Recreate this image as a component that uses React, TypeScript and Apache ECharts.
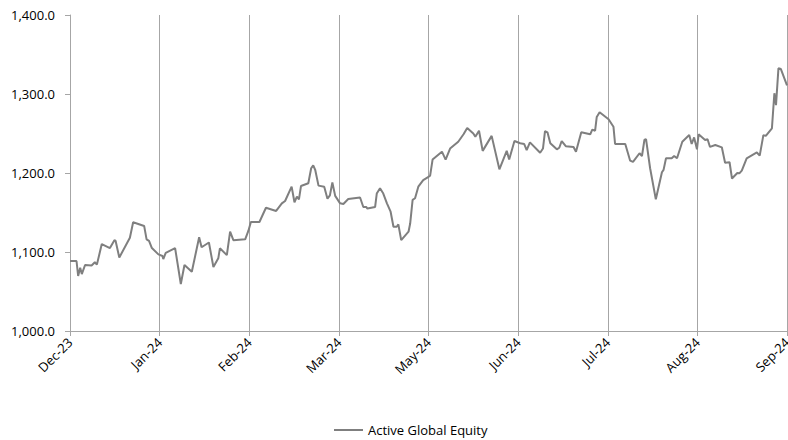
import React, { useEffect, useRef } from "react";
import * as echarts from "echarts";

// x positions in trading-day units (22 per label interval)
const monthLabels = ["Dec-23", "Jan-24", "Feb-24", "Mar-24", "May-24", "Jun-24", "Jul-24", "Aug-24", "Sep-24"];
const days = [
  0.0, 1.6, 2.0, 2.5, 2.9, 3.7, 5.3, 6.1, 6.6, 7.8, 9.8, 10.9, 11.2, 12.1, 14.7, 15.5, 18.2, 18.8, 19.4, 20.1,
  21.7, 22.7, 22.9, 23.5, 25.8, 27.2, 28.1, 29.9, 31.7, 32.3, 34.1, 35.2, 36.4, 36.8, 38.5, 39.3, 40.1, 43.0, 43.8, 44.4,
  46.5, 48.1, 50.6, 52.0, 52.8, 54.4, 55.1, 55.7, 56.2, 56.7, 58.5, 59.2, 59.7, 60.2, 61.0, 62.4, 63.2, 63.8, 64.4, 65.1,
  66.3, 67.1, 68.3, 71.2, 72.0, 72.7, 73.0, 74.9, 75.3, 76.1, 76.9, 77.8, 78.7, 79.4, 80.2, 80.6, 81.3, 83.1, 83.5, 84.1,
  84.7, 85.5, 86.7, 87.8, 88.4, 89.0, 91.3, 92.2, 93.3, 95.3, 96.6, 97.5, 99.0, 99.5, 100.4, 101.3, 103.5, 105.4, 107.2, 107.8,
  109.1, 110.5, 111.5, 112.1, 112.9, 115.4, 116.1, 116.6, 117.2, 117.9, 119.5, 120.1, 120.7, 121.7, 123.6, 124.2, 125.5, 127.7, 128.2, 128.9,
  129.3, 130.0, 132.2, 133.4, 133.8, 136.3, 137.5, 138.2, 139.8, 140.4, 141.0, 141.4, 142.4, 143.8, 145.3, 145.7, 146.3, 147.7, 148.3, 149.0,
  150.3, 152.0, 152.6, 153.2, 153.9, 154.3, 155.9, 156.5, 157.1, 158.4, 160.0, 160.8, 161.9, 162.5, 163.8, 164.3, 164.9, 166.1, 168.6, 169.3,
  170.2, 170.8, 172.3, 172.9, 173.3, 173.9, 174.5, 176.0
];
const equityValues = [
  1088.6, 1088.6, 1069.6, 1080.0, 1072.0, 1083.5, 1083.0, 1087.0, 1084.0, 1110.0, 1105.0, 1115.0, 1114.0, 1093.0, 1118.0, 1137.6, 1133.0, 1116.0, 1114.0, 1105.0,
  1097.0, 1095.0, 1091.0, 1099.0, 1105.0, 1059.5, 1083.5, 1075.0, 1118.6, 1106.0, 1112.0, 1081.0, 1092.0, 1104.7, 1096.0, 1125.7, 1115.0, 1116.0, 1127.0, 1138.0,
  1138.0, 1156.0, 1152.0, 1161.6, 1164.6, 1182.7, 1163.0, 1170.0, 1166.7, 1183.5, 1187.0, 1206.0, 1209.7, 1203.8, 1184.0, 1182.7, 1167.5, 1171.7, 1188.0, 1171.0,
  1161.6, 1160.8, 1167.0, 1169.0, 1157.0, 1157.0, 1155.0, 1157.0, 1174.0, 1180.6, 1174.0, 1161.6, 1151.0, 1132.0, 1132.0, 1135.0, 1115.0, 1125.7, 1136.0, 1166.0,
  1168.0, 1182.7, 1191.0, 1194.5, 1196.6, 1217.0, 1227.0, 1217.0, 1231.0, 1239.6, 1249.0, 1257.0, 1250.0, 1246.0, 1253.5, 1228.0, 1247.0, 1204.7, 1228.0, 1217.0,
  1240.5, 1237.6, 1236.7, 1229.0, 1238.8, 1225.7, 1231.0, 1253.0, 1251.5, 1237.6, 1230.0, 1232.0, 1240.5, 1234.0, 1233.0, 1227.0, 1251.5, 1249.0, 1255.0, 1253.5,
  1271.0, 1276.8, 1268.0, 1258.6, 1236.7, 1236.7, 1215.6, 1214.0, 1225.0, 1221.5, 1241.8, 1243.0, 1206.0, 1166.7, 1201.0, 1204.0, 1218.6, 1218.6, 1221.5, 1218.6,
  1239.6, 1248.0, 1236.7, 1245.0, 1230.0, 1249.0, 1241.8, 1242.7, 1233.0, 1235.4, 1232.5, 1213.0, 1213.6, 1193.0, 1200.0, 1199.6, 1203.0, 1218.6, 1226.0, 1222.0,
  1248.0, 1247.0, 1256.6, 1301.0, 1286.0, 1332.5, 1331.6, 1311.0
];
const seriesName = "Active Global Equity";

const FONT = "Open Sans";

export default function App() {
  const ref = useRef<HTMLDivElement>(null);
  useEffect(() => {
    if (!ref.current) return;
    const chart = echarts.init(ref.current, undefined, { renderer: "svg" });
    const data = days.map((d, i) => [d, equityValues[i]]);
    chart.setOption({
      animation: false,
      grid: { left: 70, right: 1, top: 15, bottom: 109, containLabel: false, outerBoundsMode: "none" },
      legend: {
        show: true,
        left: 334,
        top: 422,
        icon: "rect",
        itemWidth: 29,
        itemHeight: 2,
        itemGap: 4,
        padding: 0,
        data: [seriesName],
        textStyle: { fontFamily: FONT, fontSize: 13, color: "#000", lineHeight: 16 },
      },
      xAxis: {
        type: "value",
        min: 0,
        max: 176,
        interval: 22,
        axisLine: { show: true, lineStyle: { color: "#a6a6a6", width: 1 } },
        axisTick: { show: true, length: 5, lineStyle: { color: "#a6a6a6" } },
        splitLine: { show: true, lineStyle: { color: "#a6a6a6", width: 1 } },
        axisLabel: {
          rotate: 45,
          margin: 9,
          fontFamily: FONT,
          fontSize: 13,
          color: "#000",
          showMaxLabel: true,
          showMinLabel: true,
          formatter: (v: number) => monthLabels[Math.round(v / 22)] ?? "",
        },
      },
      yAxis: {
        type: "value",
        min: 1000,
        max: 1400,
        interval: 100,
        axisLine: { show: true, lineStyle: { color: "#a6a6a6", width: 1 } },
        axisTick: { show: true, length: 5, lineStyle: { color: "#a6a6a6" } },
        splitLine: { show: false },
        axisLabel: {
          margin: 15,
          fontFamily: FONT,
          fontSize: 13,
          color: "#000",
          formatter: (v: number) =>
            v.toLocaleString("en-US", { minimumFractionDigits: 1, maximumFractionDigits: 1 }),
        },
      },
      series: [
        {
          name: seriesName,
          type: "line",
          data,
          showSymbol: false,
          symbol: "none",
          lineStyle: { color: "#7f7f7f", width: 2 },
          itemStyle: { color: "#7f7f7f" },
        },
      ],
    });
    return () => chart.dispose();
  }, []);
  return (
    <div
      ref={ref}
      style={{ position: "absolute", left: 0, top: 0, width: 788, height: 440 }}
    />
  );
}
